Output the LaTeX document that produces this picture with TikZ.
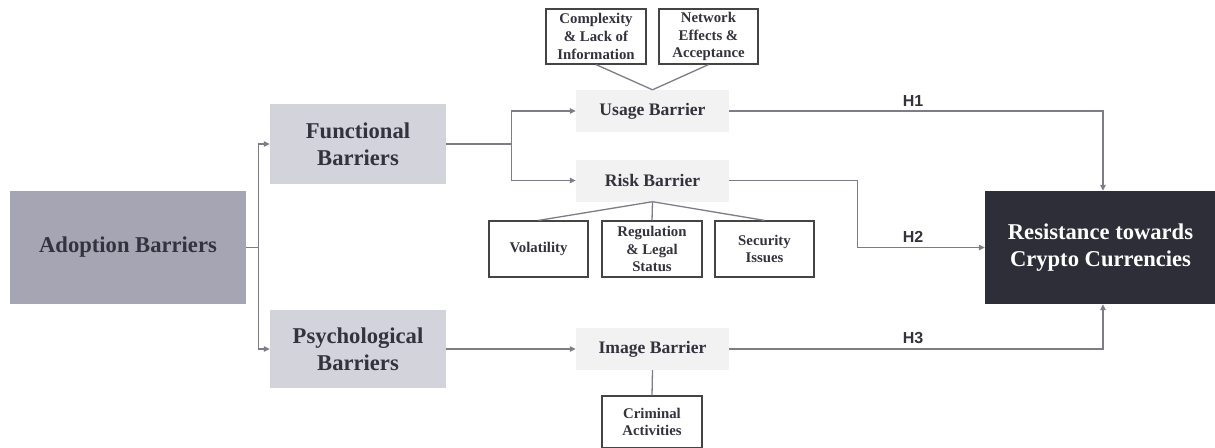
\documentclass[tikz,border=0pt]{standalone}
\usepackage{fontspec}
\setmainfont{Liberation Serif}
\newfontfamily\hfont{Liberation Sans}
\usetikzlibrary{arrows.meta}
\definecolor{adoptc}{HTML}{A6A5B4}
\definecolor{barc}{HTML}{D3D3DC}
\definecolor{subc}{HTML}{F2F2F2}
\definecolor{resc}{HTML}{2E2E38}
\definecolor{txtc}{HTML}{33333E}
\definecolor{linec}{HTML}{7D7D8A}
\definecolor{boxc}{HTML}{444444}
\tikzset{
  bigbox/.style={inner sep=0pt, align=center, text=txtc, font=\fontsize{22.6}{27}\selectfont\bfseries},
  subbox/.style={fill=subc, inner sep=0pt, minimum width=153pt, minimum height=42pt, text=txtc, font=\fontsize{17.6}{21}\selectfont\bfseries},
  smallbox/.style={draw=boxc, line width=1.2pt, fill=white, inner sep=0pt, align=center, text=txtc, font=\fontsize{14.8}{17.7}\selectfont\bfseries},
  conn/.style={draw=linec, line width=1.3pt},
  arr/.style={conn, -{Triangle[length=6pt,width=5.5pt]}},
  hlab/.style={text=txtc, font=\fontsize{16}{18}\selectfont\hfont\bfseries, inner sep=0pt}
}
\begin{document}
\begin{tikzpicture}[x=1pt,y=-1pt]
\useasboundingbox (0,0) rectangle (1215,447);
\fill[white] (0,0) rectangle (1215,447);
% main nodes
\node[bigbox, fill=adoptc, minimum width=236pt, minimum height=113pt] (adopt) at (128,247.5) {Adoption Barriers};
\node[bigbox, fill=barc, minimum width=176pt, minimum height=80pt] (func) at (358,144) {Functional\\Barriers};
\node[bigbox, fill=barc, minimum width=176pt, minimum height=78pt] (psych) at (358,349) {Psychological\\Barriers};
\node[subbox] (usage) at (652.5,111) {Usage Barrier};
\node[subbox] (risk) at (652.5,180.5) {Risk Barrier};
\node[subbox] (image) at (652.5,349) {Image Barrier};
\node[smallbox, minimum width=100pt, minimum height=55pt] (compl) at (596,36.5) {Complexity\\\& Lack of\\Information};
\node[smallbox, minimum width=99pt, minimum height=55pt] (netw) at (708.5,36.5) {Network\\Effects \&\\Acceptance};
\node[smallbox, minimum width=99pt, minimum height=56pt] (vol) at (538.5,249) {Volatility};
\node[smallbox, minimum width=100pt, minimum height=56pt] (reg) at (652,249) {Regulation\\\& Legal\\Status};
\node[smallbox, minimum width=99pt, minimum height=56pt] (sec) at (764.5,249) {Security\\Issues};
\node[smallbox, minimum width=100pt, minimum height=52pt] (crim) at (652,422) {Criminal\\Activities};
\node[bigbox, fill=resc, text=white, minimum width=231pt, minimum height=113pt] (res) at (1100.5,247.5) {Resistance towards\\Crypto Currencies};
% connectors
\draw[conn] (adopt.east) -- ++(12,0) coordinate (j1);
\draw[arr] (j1) |- (func.west);
\draw[arr] (j1) |- (psych.west);
\draw[conn] (func.east) -- ++(65,0) coordinate (j2);
\draw[arr] (j2) |- (usage.west);
\draw[arr] (j2) |- (risk.west);
\draw[arr] (psych.east) -- (image.west);
\draw[conn] (compl.south) -- (usage.north);
\draw[conn] (netw.south) -- (usage.north);
\draw[conn] (risk.south) -- (vol.north);
\draw[conn] (risk.south) -- (reg.north);
\draw[conn] (risk.south) -- (sec.north);
\draw[conn] (image.south) -- (crim.north);
\draw[arr] (usage.east) -| ([xshift=2.5pt]res.north);
\draw[arr] (risk.east) -- ++(128,0) |- (res.west);
\draw[arr] (image.east) -| ([xshift=2.5pt]res.south);
% labels
\node[hlab] (h1) at (913,101) {H1};
\node[hlab] (h2) at (913,237) {H2};
\node[hlab] (h3) at (913,338) {H3};
\end{tikzpicture}
\end{document}
